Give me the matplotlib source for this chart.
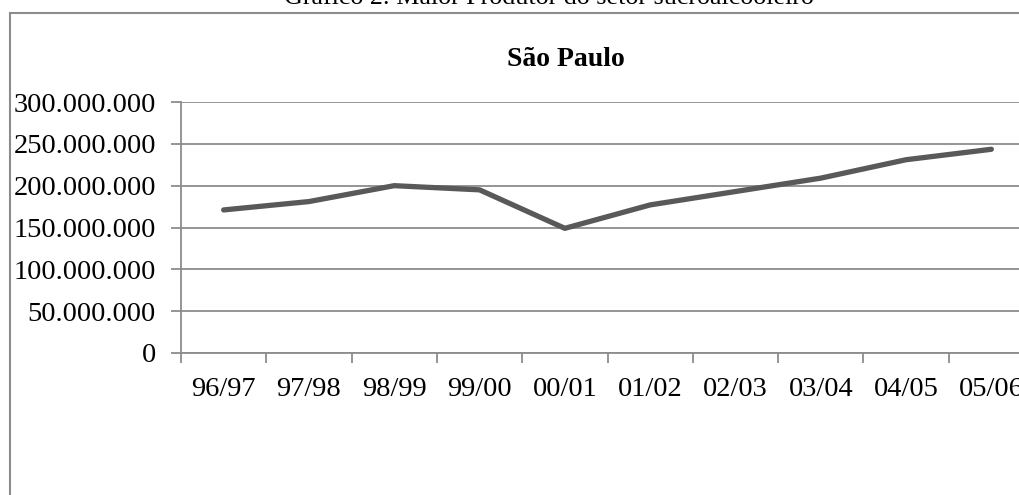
import numpy as np
import matplotlib
matplotlib.use("Agg")
import matplotlib.pyplot as plt
from matplotlib.patches import Rectangle
from matplotlib.ticker import FuncFormatter

# data (production, São Paulo)
safras = ["96/97", "97/98", "98/99", "99/00", "00/01",
          "01/02", "02/03", "03/04", "04/05", "05/06"]
producao = [171e6, 181e6, 200e6, 195e6, 149e6,
            177e6, 193e6, 209e6, 231e6, 243.5e6]
yticks = [0, 50e6, 100e6, 150e6, 200e6, 250e6, 300e6]

plt.rcParams['font.family'] = ['Liberation Serif', 'DejaVu Serif']

W, H = 1019, 495
fig = plt.figure(figsize=(W / 100, H / 100), dpi=100)

# chart border (runs past the right and bottom edge, as in the scan)
fig.patches.append(Rectangle((10 / W, -0.2), 2, 1 - 13 / H + 0.2, fill=False,
                             edgecolor='#8c8c8c', lw=1.5,
                             transform=fig.transFigure, figure=fig))

# caption cut at the top
fig.text(549 / W, 1 - 4 / H, "Gráfico 2: Maior Produtor do setor sucroalcooleiro",
         ha='center', va='baseline', fontsize=18.7)

ax = fig.add_axes([181 / W, 1 - 353 / H, 853 / W, 251 / H])
x = np.arange(len(safras))
ax.plot(x, producao, color='#595959', lw=3.8, solid_capstyle='round', zorder=3)

ax.set_xlim(-0.5, len(safras) - 0.5)
ax.set_ylim(0, 300e6)
ax.set_yticks(yticks)
ax.yaxis.set_major_formatter(FuncFormatter(lambda v, p: f"{int(v):,}".replace(",", ".")))
ax.grid(axis='y', color='#8c8c8c', lw=1.3)
ax.set_axisbelow(True)

ax.set_xticks(np.arange(-0.5, len(safras)), labels=[])
ax.set_xticks(x, labels=safras, minor=True)
ax.tick_params(axis='x', which='major', length=7, width=1.3, color='#8c8c8c')
ax.tick_params(axis='x', which='minor', length=0, pad=17, labelsize=20.5)
ax.tick_params(axis='y', length=7, width=1.3, color='#8c8c8c', pad=11, labelsize=20.5)

for s in ['top', 'right']:
    ax.spines[s].set_visible(False)
for s in ['left', 'bottom']:
    ax.spines[s].set_color('#8c8c8c')
    ax.spines[s].set_linewidth(1.3)

fig.text(565.5 / W, 1 - 66 / H, "São Paulo", ha='center', va='baseline',
         fontsize=20, fontweight='bold')

fig.savefig("out.png", dpi=100)
